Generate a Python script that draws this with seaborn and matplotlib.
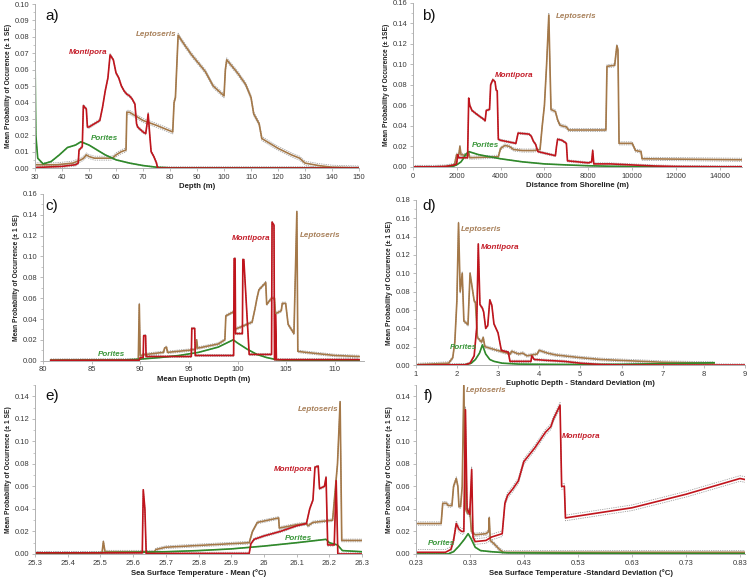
import numpy as np
import pandas as pd
import seaborn as sns
import matplotlib
matplotlib.use("Agg")
import matplotlib.pyplot as plt
from matplotlib.ticker import FormatStrFormatter, AutoMinorLocator

# ---- a) depth ----
lep_a_x = [30, 38, 44, 47, 48, 49, 50, 52, 58, 59, 60, 62, 63.7, 64, 65, 67, 70, 75, 81, 81.5, 82, 83, 85, 88, 90, 93, 95, 96,
           100, 100.5, 101, 102, 105, 108, 110, 111, 113, 114, 116, 120, 125, 128, 130, 135, 140, 150]
lep_a_y = [0.002, 0.002, 0.003, 0.005, 0.006, 0.008, 0.007, 0.006, 0.006, 0.0065, 0.008, 0.010, 0.011, 0.034, 0.034, 0.032,
           0.029, 0.026, 0.022, 0.040, 0.043, 0.081, 0.076, 0.069, 0.065, 0.059, 0.053, 0.050, 0.044, 0.060, 0.066, 0.064,
           0.058, 0.051, 0.043, 0.033, 0.027, 0.018, 0.016, 0.012, 0.008, 0.006, 0.003, 0.0015, 0.0005, 0.0]
mon_a_x = [30, 40, 45, 46, 46.3, 47.5, 47.9, 49, 49.4, 50, 54, 55, 56, 57, 57.8, 59, 60, 61, 62, 63, 64, 65, 66, 67, 67.6,
           68, 70, 71, 71.5, 71.9, 72.5, 73, 74, 75, 75.4, 150]
mon_a_y = [0.0003, 0.001, 0.002, 0.003, 0.011, 0.013, 0.038, 0.036, 0.025, 0.025, 0.029, 0.037, 0.047, 0.055, 0.069, 0.066,
           0.058, 0.055, 0.050, 0.047, 0.045, 0.044, 0.042, 0.039, 0.027, 0.025, 0.022, 0.021, 0.027, 0.033, 0.020, 0.010,
           0.007, 0.003, 0.0, 0.0]
por_a_x = [30, 30.3, 31, 33, 36, 39, 42, 45, 47, 50, 53, 56, 60, 65, 70, 75, 80, 150]
por_a_y = [0.068, 0.020, 0.006, 0.0025, 0.004, 0.008, 0.0125, 0.014, 0.016, 0.014, 0.011, 0.008, 0.005, 0.003, 0.0015,
           0.0005, 0.0001, 0.0]

# ---- b) distance from shoreline ----
lep_b_x = [0, 1000, 1500, 1900, 2000, 2100, 2150, 2200, 2500, 2550, 2600, 3900, 4000, 4200, 4400, 4600, 5000, 5500, 5800,
           5900, 6000, 6100, 6200, 6250, 6300, 6500, 6600, 6700, 6800, 7000, 7100, 8800, 8850, 9200, 9300, 9350, 9400,
           10000, 10150, 10400, 10450, 15000]
lep_b_y = [0.0001, 0.0001, 0.0005, 0.002, 0.012, 0.012, 0.020, 0.012, 0.011, 0.014, 0.009, 0.010, 0.018, 0.021, 0.020,
           0.017, 0.016, 0.016, 0.017, 0.040, 0.060, 0.100, 0.148, 0.100, 0.056, 0.054, 0.046, 0.041, 0.040, 0.039, 0.036,
           0.036, 0.098, 0.099, 0.118, 0.114, 0.023, 0.023, 0.016, 0.015, 0.008, 0.007]
mon_b_x = [0, 1000, 1500, 1900, 2000, 2050, 2100, 2500, 2550, 2600, 2700, 3000, 3200, 3300, 3350, 3500, 3550, 3650, 3750,
           3800, 3850, 3900, 4000, 4700, 4800, 5300, 5400, 5500, 5600, 5700, 6500, 6550, 6600, 6800, 7000, 7050, 8000,
           8150, 8200, 8250, 9000, 10000, 11000, 12000, 14000, 15000]
mon_b_y = [0.0002, 0.0002, 0.0005, 0.002, 0.003, 0.012, 0.009, 0.009, 0.067, 0.060, 0.055, 0.050, 0.047, 0.045, 0.055,
           0.056, 0.080, 0.085, 0.083, 0.075, 0.074, 0.027, 0.026, 0.023, 0.033, 0.032, 0.030, 0.025, 0.022, 0.015, 0.011,
           0.020, 0.027, 0.026, 0.023, 0.006, 0.004, 0.005, 0.016, 0.003, 0.003, 0.002, 0.001, 0.0005, 0.0002, 0.0002]
por_b_x = [0, 1500, 1800, 2000, 2200, 2300, 2400, 2550, 3000, 4000, 5000, 6000, 7000, 8000, 9000, 10000, 12000, 15000]
por_b_y = [0.0, 0.0001, 0.0005, 0.002, 0.005, 0.008, 0.012, 0.015, 0.012, 0.008, 0.005, 0.003, 0.002, 0.0012, 0.0007,
           0.0004, 0.0001, 0.0]

# ---- c) mean euphotic depth ----
lep_c_x = [80.8, 89.8, 89.9, 90.0, 90.6, 92.4, 92.5, 92.7, 92.8, 95, 95.7, 95.8, 95.9, 98, 98.7, 98.8, 99.6, 99.7, 100.5,
           101, 101.5, 101.8, 102, 102.2, 102.9, 103.0, 103.5, 103.8, 103.9, 104.5, 104.6, 104.95, 105.2, 105.8, 106.1,
           106.2, 107, 110, 112.5]
lep_c_y = [0.0005, 0.0008, 0.054, 0.005, 0.006, 0.008, 0.012, 0.013, 0.008, 0.010, 0.011, 0.020, 0.012, 0.016, 0.020,
           0.043, 0.047, 0.030, 0.033, 0.035, 0.037, 0.050, 0.060, 0.068, 0.075, 0.054, 0.060, 0.060, 0.045, 0.048, 0.055,
           0.055, 0.035, 0.026, 0.143, 0.009, 0.008, 0.005, 0.004]
mon_c_x = [80.8, 89.9, 90.0, 90.3, 90.35, 90.55, 90.6, 95.25, 95.3, 95.6, 95.65, 99.6, 99.65, 99.75, 99.8, 100.5, 100.55,
           100.65, 101.2, 103.5, 103.55, 103.75, 103.8, 103.88, 103.9, 103.95, 104.0, 112.5]
mon_c_y = [0.0003, 0.0005, 0.003, 0.003, 0.024, 0.024, 0.004, 0.004, 0.031, 0.031, 0.005, 0.005, 0.098, 0.098, 0.026,
           0.026, 0.097, 0.097, 0.006, 0.006, 0.133, 0.130, 0.001, 0.001, 0.044, 0.025, 0.001, 0.001]
por_c_x = [80.8, 88, 90, 92, 94, 96, 98, 99.55, 100, 101, 102, 103, 104, 105, 112.5]
por_c_y = [0.0003, 0.0005, 0.0015, 0.003, 0.005, 0.008, 0.013, 0.020, 0.017, 0.011, 0.006, 0.003, 0.001, 0.0003, 0.0]

# ---- d) euphotic depth SD ----
lep_d_x = [1, 1.8, 1.9, 1.95, 2.0, 2.04, 2.08, 2.13, 2.17, 2.27, 2.32, 2.36, 2.42, 2.45, 2.5, 2.6, 2.64, 2.68, 2.9, 3.3,
           3.33, 3.5, 3.6, 3.7, 3.95, 4.0, 4.2, 4.4, 5.0, 5.5, 6, 7, 8.25]
lep_d_y = [0.0003, 0.002, 0.008, 0.025, 0.070, 0.155, 0.080, 0.100, 0.048, 0.044, 0.100, 0.088, 0.070, 0.068, 0.030, 0.025,
           0.030, 0.020, 0.017, 0.012, 0.015, 0.012, 0.013, 0.010, 0.012, 0.016, 0.013, 0.011, 0.008, 0.006, 0.005, 0.003,
           0.002]
mon_d_x = [1, 2.2, 2.32, 2.42, 2.48, 2.52, 2.56, 2.62, 2.65, 2.7, 2.75, 2.8, 2.85, 2.9, 2.95, 3.0, 3.08, 3.25, 3.29, 3.8,
           3.82, 3.88, 4.2, 4.6, 5, 5.5, 6, 9]
mon_d_y = [0.0, 0.0003, 0.002, 0.010, 0.040, 0.132, 0.066, 0.062, 0.058, 0.040, 0.043, 0.071, 0.065, 0.045, 0.040, 0.035,
           0.016, 0.014, 0.004, 0.004, 0.010, 0.006, 0.005, 0.004, 0.002, 0.0005, 0.0, 0.0]
por_d_x = [1, 2.2, 2.35, 2.45, 2.55, 2.62, 2.7, 2.8, 2.9, 3.1, 3.5, 4, 5, 6, 7, 8, 8.25]
por_d_y = [0.0, 0.0003, 0.002, 0.006, 0.013, 0.022, 0.012, 0.006, 0.004, 0.002, 0.001, 0.0008, 0.0005, 0.0008, 0.0015,
           0.0022, 0.0025]

# ---- e) SST mean ----
lep_e_x = [25.3, 25.505, 25.509, 25.514, 25.665, 25.67, 25.7, 25.955, 25.965, 25.98, 26.045, 26.047, 26.1, 26.13, 26.135,
           26.15, 26.21, 26.225, 26.233, 26.238, 26.3]
lep_e_y = [0.001, 0.001, 0.011, 0.002, 0.002, 0.004, 0.006, 0.010, 0.020, 0.028, 0.032, 0.023, 0.026, 0.027, 0.025, 0.028,
           0.030, 0.080, 0.135, 0.012, 0.012]
mon_e_x = [25.3, 25.628, 25.631, 25.636, 25.64, 25.955, 25.96, 25.97, 26.0, 26.05, 26.1, 26.13, 26.14, 26.15, 26.156,
           26.166, 26.17, 26.185, 26.19, 26.195, 26.215, 26.221, 26.226, 26.3]
mon_e_y = [0.001, 0.001, 0.057, 0.040, 0.0005, 0.0005, 0.009, 0.013, 0.016, 0.020, 0.025, 0.027, 0.040, 0.048, 0.077,
           0.078, 0.058, 0.060, 0.068, 0.008, 0.008, 0.065, 0.0, 0.0]
por_e_x = [25.3, 25.6, 25.7, 25.8, 25.9, 26.0, 26.1, 26.19, 26.2, 26.225, 26.24, 26.3]
por_e_y = [0.0005, 0.0015, 0.002, 0.003, 0.0045, 0.007, 0.010, 0.013, 0.010, 0.008, 0.003, 0.002]

# ---- f) SST SD ----
lep_f_x = [0.23, 0.277, 0.28, 0.287, 0.29, 0.297, 0.30, 0.305, 0.308, 0.31, 0.313, 0.316, 0.319, 0.322, 0.326, 0.33, 0.333,
           0.34, 0.36, 0.365, 0.366, 0.368, 0.375, 0.385, 0.392, 0.84]
lep_f_y = [0.027, 0.027, 0.045, 0.045, 0.043, 0.043, 0.060, 0.067, 0.060, 0.042, 0.042, 0.060, 0.150, 0.040, 0.036, 0.040,
           0.020, 0.017, 0.018, 0.020, 0.032, 0.012, 0.009, 0.004, 0.0015, 0.0015]
mon_f_x = [0.23, 0.285, 0.295, 0.30, 0.305, 0.31, 0.315, 0.319, 0.322, 0.325, 0.33, 0.3335, 0.336, 0.34, 0.36, 0.37, 0.39,
           0.395, 0.40, 0.41, 0.42, 0.43, 0.45, 0.47, 0.48, 0.485, 0.497, 0.50, 0.505, 0.507, 0.63, 0.73, 0.83, 0.84]
mon_f_y = [0.0015, 0.0015, 0.004, 0.012, 0.027, 0.022, 0.020, 0.020, 0.128, 0.040, 0.035, 0.075, 0.015, 0.011, 0.012,
           0.015, 0.018, 0.045, 0.052, 0.058, 0.065, 0.082, 0.094, 0.108, 0.113, 0.120, 0.132, 0.060, 0.060, 0.032, 0.041,
           0.053, 0.067, 0.066]
por_f_x = [0.23, 0.29, 0.30, 0.31, 0.32, 0.327, 0.333, 0.34, 0.35, 0.37, 0.40, 0.6, 0.84]
por_f_y = [0.0, 0.0, 0.002, 0.007, 0.013, 0.018, 0.013, 0.006, 0.003, 0.002, 0.001, 0.0005, 0.0003]

# standard errors (Leptoseris, Montipora, Porites) per panel
se_a = [0.0012, 0.0008, 0.0002]
se_b = [0.0015, 0.0010, 0.0002]
se_c = [0.0012, 0.0010, 0.0002]
se_d = [0.0015, 0.0012, 0.0002]
se_e = [0.0012, 0.0010, 0.0002]
se_f = [0.0015, 0.0025, 0.0003]

species = ["Leptoseris", "Porites", "Montipora"]
colors = {"Leptoseris": "#a47848", "Montipora": "#c0141c", "Porites": "#2f8a2a"}
label_colors = {"Leptoseris": "#a8805a", "Montipora": "#c41e2a", "Porites": "#3a963a"}

plt.rcParams['font.family'] = ['Liberation Sans', 'DejaVu Sans']
fig = plt.figure(figsize=(7.5, 5.77), dpi=100)

panels = [
    dict(letter="a)", rect=[0.0467, 0.7088, 0.432, 0.2842], xlim=(30, 150), ylim=(0, 0.10),
         xticks=np.arange(30, 151, 10), yticks=np.arange(0, 0.101, 0.01), xfmt="{:g}",
         xlabel="Depth (m)", ylabel="Mean Probability of Occurence (\u00b1 1 SE)",
         lep=(lep_a_x, lep_a_y), mon=(mon_a_x, mon_a_y), por=(por_a_x, por_a_y), se=se_a,
         labels={"Leptoseris": (74.7, 0.0815), "Montipora": (49.8, 0.0704), "Porites": (55.7, 0.018)},
         lpos=(45, 16)),
    dict(letter="b)", rect=[0.5503, 0.7106, 0.439, 0.2848], xlim=(0, 15000), ylim=(0, 0.16),
         xticks=np.arange(0, 14001, 2000), yticks=np.arange(0, 0.161, 0.02), xfmt="{:g}",
         xlabel="Distance from Shoreline (m)", ylabel="Mean Probability of Occurence (\u00b1 1SE)",
         lep=(lep_b_x, lep_b_y), mon=(mon_b_x, mon_b_y), por=(por_b_x, por_b_y), se=se_b,
         labels={"Leptoseris": (7430, 0.147), "Montipora": (4600, 0.0894), "Porites": (3310, 0.021)},
         lpos=(422, 16)),
    dict(letter="c)", rect=[0.0573, 0.3749, 0.428, 0.2889], xlim=(80, 113), ylim=(0, 0.16),
         xticks=np.arange(80, 111, 5), yticks=np.arange(0, 0.161, 0.02), xfmt="{:g}",
         xlabel="Mean Euphotic Depth (m)", ylabel="Mean Probability of Occurrence (\u00b1 1 SE)",
         lep=(lep_c_x, lep_c_y), mon=(mon_c_x, mon_c_y), por=(por_c_x, por_c_y), se=se_c,
         labels={"Leptoseris": (108.5, 0.120), "Montipora": (101.45, 0.117), "Porites": (87, 0.006)},
         lpos=(45, 206)),
    dict(letter="d)", rect=[0.5543, 0.3674, 0.439, 0.2860], xlim=(1, 9), ylim=(0, 0.18),
         xticks=np.arange(1, 10, 1), yticks=np.arange(0, 0.181, 0.02), xfmt="{:g}",
         xlabel="Euphotic Depth - Standard Deviation (m)", ylabel="Mean Probability of Occurence (\u00b1 1 SE)",
         lep=(lep_d_x, lep_d_y), mon=(mon_d_x, mon_d_y), por=(por_d_x, por_d_y), se=se_d,
         labels={"Leptoseris": (2.6, 0.148), "Montipora": (3.06, 0.128), "Porites": (2.16, 0.0196)},
         lpos=(422, 206)),
    dict(letter="e)", rect=[0.0467, 0.0399, 0.436, 0.2929], xlim=(25.3, 26.3), ylim=(0, 0.15),
         xticks=np.arange(25.3, 26.31, 0.1), yticks=np.arange(0, 0.141, 0.02), xfmt="{:g}",
         xlabel="Sea Surface Temperature - Mean (\u00b0C)", ylabel="Mean Probability of Occurrence (\u00b1 1 SE)",
         lep=(lep_e_x, lep_e_y), mon=(mon_e_x, mon_e_y), por=(por_e_x, por_e_y), se=se_e,
         labels={"Leptoseris": (26.167, 0.1285), "Montipora": (26.09, 0.0753), "Porites": (26.105, 0.0133)},
         lpos=(45, 396)),
    dict(letter="f)", rect=[0.5543, 0.0399, 0.4396, 0.2929], xlim=(0.23, 0.84), ylim=(0, 0.15),
         xticks=np.arange(0.23, 0.84, 0.1), yticks=np.arange(0, 0.141, 0.02), xfmt="{:.2f}",
         xlabel="Sea Surface Temperature -Standard Deviation (\u00b0C)",
         ylabel="Mean Probability of Occurrence (\u00b1 1 SE)",
         lep=(lep_f_x, lep_f_y), mon=(mon_f_x, mon_f_y), por=(por_f_x, por_f_y), se=se_f,
         labels={"Leptoseris": (0.36, 0.1447), "Montipora": (0.537, 0.1045), "Porites": (0.277, 0.0095)},
         lpos=(424, 396)),
]

for p in panels:
    ax = fig.add_axes(p["rect"])
    series = {"Leptoseris": p["lep"], "Montipora": p["mon"], "Porites": p["por"]}
    se_map = {"Leptoseris": p["se"][0], "Montipora": p["se"][1], "Porites": p["se"][2]}
    frames = []
    for name in species:
        xs, ys = series[name]
        frames.append(pd.DataFrame({"x": xs, "y": ys, "species": name}))
        ys_arr = np.array(ys)
        # dotted +/- 1 SE lines
        for sign in (1, -1):
            ax.plot(xs, np.clip(ys_arr + sign * se_map[name], 0, None), color="#a0a0a0",
                    lw=0.6, ls=(0, (1.5, 1.2)), zorder=1)
    df = pd.concat(frames, ignore_index=True)
    sns.lineplot(data=df, x="x", y="y", hue="species", hue_order=species, palette=colors,
                 estimator=None, sort=False, legend=False, lw=1.2, ax=ax, zorder=2)

    ax.set_xlim(*p["xlim"])
    ax.set_ylim(*p["ylim"])
    ax.set_xticks(p["xticks"])
    ax.set_xticklabels([p["xfmt"].format(round(v, 2)) for v in p["xticks"]])
    ax.set_yticks(p["yticks"])
    ax.yaxis.set_major_formatter(FormatStrFormatter("%.2f"))
    ax.yaxis.set_minor_locator(AutoMinorLocator(2))
    ax.tick_params(axis="both", which="major", labelsize=5.5, labelcolor="#3a3a3a", color="#b0b0b0",
                   length=2, width=0.6, pad=2)
    ax.tick_params(axis="y", which="minor", length=1.2, width=0.5, color="#b0b0b0")
    for side in ("top", "right"):
        ax.spines[side].set_visible(False)
    for side in ("left", "bottom"):
        ax.spines[side].set_color("#b0b0b0")
        ax.spines[side].set_linewidth(0.7)
    ax.set_xlabel(p["xlabel"], fontsize=5.6, fontweight="bold", color="#222222", labelpad=2)
    ax.set_ylabel(p["ylabel"], fontsize=4.8, fontweight="bold", color="#222222", labelpad=2)
    ax.patch.set_alpha(0)

    for name, (tx, ty) in p["labels"].items():
        ax.text(tx, ty, name, color=label_colors[name], fontsize=5.8, fontweight="bold",
                fontstyle="italic", ha="center", va="center", zorder=5)

    lx, ly = p["lpos"]
    fig.text(lx / 750, 1 - ly / 577, p["letter"], fontsize=11, ha="left", va="center", color="#111111")

fig.savefig("out.png", dpi=100, facecolor="white")
